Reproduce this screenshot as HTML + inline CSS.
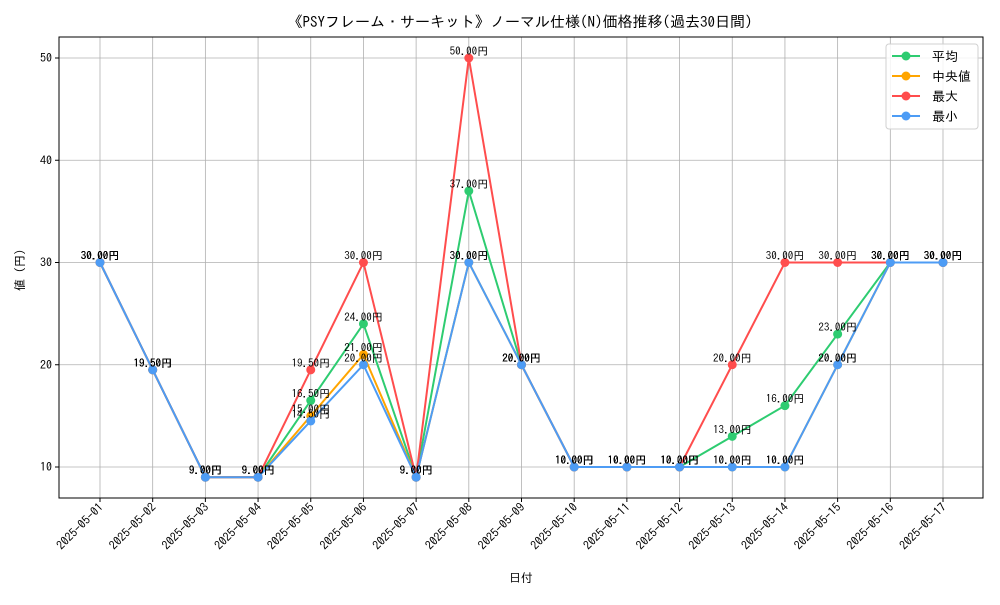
<!DOCTYPE html>
<html><head><meta charset="utf-8"><style>
body{margin:0;background:#fff}
svg{font-family:"IPAGothic","Noto Sans CJK JP","Liberation Sans",sans-serif}
</style></head><body>
<svg id="chart" width="1000" height="600"></svg>
<script>
const categories=["2025-05-01","2025-05-02","2025-05-03","2025-05-04","2025-05-05","2025-05-06","2025-05-07","2025-05-08","2025-05-09","2025-05-10","2025-05-11","2025-05-12","2025-05-13","2025-05-14","2025-05-15","2025-05-16","2025-05-17"];
const avgValues=[30,19.5,9,9,16.5,24,9,37,20,10,10,10,13,16,23,30,30];
const medianValues=[30,19.5,9,9,15,21,9,30,20,10,10,10,10,10,20,30,30];
const maxValues=[30,19.5,9,9,19.5,30,9,50,20,10,10,10,20,30,30,30,30];
const minValues=[30,19.5,9,9,14.5,20,9,30,20,10,10,10,10,10,20,30,30];
const yTicks=[10,20,30,40,50];
const seriesNames=["平均","中央値","最大","最小"];

const NS="http://www.w3.org/2000/svg";
const svg=document.getElementById('chart');
const L=59,R=983,T=37,B=498;
const x=i=>100+i*(943-100)/(categories.length-1);
const y=v=>467-(v-10)*(467-58)/40;
function el(tag,attrs,parent){const e=document.createElementNS(NS,tag);for(const k in attrs)e.setAttribute(k,attrs[k]);(parent||svg).appendChild(e);return e;}
function txt(s,attrs,parent){const e=el('text',attrs,parent);e.textContent=s;return e;}

const title=txt("《PSYフレーム・サーキット》ノーマル仕様(N)価格推移(過去30日間)",{x:520,y:27,'text-anchor':'middle','font-size':15});



const grid=el('g',{});


categories.forEach((c,i)=>{el('line',{x1:x(i),x2:x(i),y1:T,y2:B,stroke:'#b0b0b0','stroke-width':0.8},grid);});
yTicks.forEach(v=>{el('line',{x1:L,x2:R,y1:y(v),y2:y(v),stroke:'#b0b0b0','stroke-width':0.8},grid);});

const xAxis=el('g',{});


categories.forEach((c,i)=>{
  el('line',{x1:x(i),x2:x(i),y1:B,y2:B+4,stroke:'#000'},xAxis);
  const t=txt(c,{x:x(i)+4,y:B+10,'text-anchor':'end','font-size':12,transform:`rotate(-45 ${x(i)+4} ${B+10})`},xAxis);
  
  
});
const yAxis=el('g',{});


yTicks.forEach(v=>{
  el('line',{x1:L-4,x2:L,y1:y(v),y2:y(v),stroke:'#000'},yAxis);
  const t=txt(String(v),{x:L-7,y:y(v)+4,'text-anchor':'end','font-size':12},yAxis);
  
  
});
const xt=txt("日付",{x:521,y:582,'text-anchor':'middle','font-size':12});


const yt=txt("値（円）",{x:24,y:267,'text-anchor':'middle','font-size':12,transform:'rotate(-90 24 267)'});



const series=[[avgValues,'#2ecc71','avg'],[medianValues,'#ffa500','median'],[maxValues,'#ff4d4d','max'],[minValues,'#4d9cf5','min']];
series.forEach(([vals,col,nm])=>{
  const g=el('g',{});
  
  
  el('polyline',{points:vals.map((v,i)=>x(i)+','+y(v)).join(' '),fill:'none',stroke:col,'stroke-width':2},g);
  vals.forEach((v,i)=>{
    const c=el('circle',{cx:x(i),cy:y(v),r:4.5,fill:col},g);
    
    
  });
});
series.forEach(([vals,col,nm])=>{
  vals.forEach((v,i)=>{
    const t=txt(v.toFixed(2)+"円",{x:x(i),y:y(v)-3,'text-anchor':'middle','font-size':11});
    
    
  });
});
el('rect',{x:L,y:T,width:R-L,height:B-T,fill:'none',stroke:'#000','stroke-width':1});

const lg=el('g',{});


el('rect',{x:886,y:44,width:92,height:85,rx:3,fill:'#fff','fill-opacity':0.85,stroke:'#d0d0d0'},lg);
series.forEach(([vals,col,nm],k)=>{
  const yy=56+k*20;
  const e=el('g',{},lg);
  
  
  el('line',{x1:892,x2:920,y1:yy,y2:yy,stroke:col,'stroke-width':2},e);
  el('circle',{cx:906,cy:yy,r:4.5,fill:col},e);
  txt(seriesNames[k],{x:932,y:yy+5,'font-size':13},e);
});
</script>
</body></html>
